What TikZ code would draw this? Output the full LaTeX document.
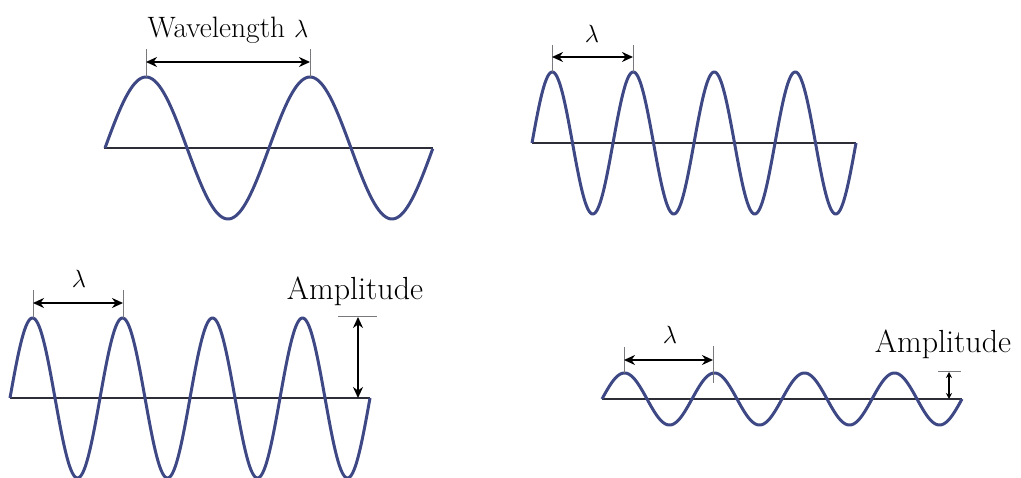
\documentclass[tikz,border=0pt]{standalone}
\usetikzlibrary{arrows.meta}
\definecolor{wavecol}{RGB}{62,72,132}
\definecolor{axiscol}{RGB}{45,45,55}
\definecolor{tickcol}{RGB}{120,120,125}
\tikzset{
  wave/.style={draw=wavecol, line width=3pt, line join=round},
  axisline/.style={draw=axiscol, line width=1.8pt},
  tickline/.style={draw=tickcol, line width=0.9pt},
  dimarrow/.style={draw=black, line width=1.8pt, {Stealth[length=11pt,width=10pt]}-{Stealth[length=11pt,width=10pt]}},
  lbl/.style={inner sep=0pt, anchor=base, font=\fontsize{29}{32}\selectfont},
  biglbl/.style={inner sep=0pt, anchor=base, font=\fontsize{32}{36}\selectfont}
}
\begin{document}
\begin{tikzpicture}[x=1pt, y=-1pt]
\useasboundingbox (0,0) rectangle (1021,478);

% ---------- Panel 1 (top-left) ----------
\coordinate (a1s) at (104,148);
\coordinate (a1e) at (433,148);
\draw[axisline] (a1s) -- (a1e);
\draw[wave] plot[domain=0:2, samples=240, smooth] ({105+164*\x},{148-71*sin(360*\x)});
\coordinate (p1a) at (146,77);
\coordinate (p1b) at (310,77);
\coordinate (t1a) at (146,49);
\coordinate (t1b) at (310,49);
\draw[tickline] (t1a) -- (p1a);
\draw[tickline] (t1b) -- (p1b);
\coordinate (d1a) at (146,62);
\coordinate (d1b) at (310,62);
\draw[dimarrow] (d1a) -- (d1b);
\node[lbl, font=\fontsize{29.5}{32}\selectfont] (wl) at (228,38) {Wavelength $\lambda$};

% ---------- Panel 2 (top-right) ----------
\coordinate (a2s) at (532,143);
\coordinate (a2e) at (856,143);
\draw[axisline] (a2s) -- (a2e);
\draw[wave] plot[domain=0:4, samples=400, smooth] ({532+81*\x},{143-71*sin(360*\x)});
\coordinate (p2a) at (552,72);
\coordinate (p2b) at (633,72);
\coordinate (t2a) at (552,45);
\coordinate (t2b) at (633,45);
\draw[tickline] (t2a) -- (p2a);
\draw[tickline] (t2b) -- (p2b);
\coordinate (d2a) at (552,57);
\coordinate (d2b) at (633,57);
\draw[dimarrow] (d2a) -- (d2b);
\node[lbl] (l2) at (592,43) {$\lambda$};

% ---------- Panel 3 (bottom-left) ----------
\coordinate (a3s) at (10,398);
\coordinate (a3e) at (370,398);
\draw[axisline] (a3s) -- (a3e);
\draw[wave] plot[domain=0:4, samples=400, smooth] ({10+90*\x},{398-80*sin(360*\x)});
\coordinate (p3a) at (33,318);
\coordinate (p3b) at (123,318);
\coordinate (t3a) at (33,290);
\coordinate (t3b) at (123,290);
\draw[tickline] (t3a) -- (p3a);
\draw[tickline] (t3b) -- (p3b);
\coordinate (d3a) at (33,303);
\coordinate (d3b) at (123,303);
\draw[dimarrow] (d3a) -- (d3b);
\node[lbl] (l3) at (79,288) {$\lambda$};
% amplitude
\coordinate (h3a) at (338,316);
\coordinate (h3b) at (377,316);
\draw[tickline] (h3a) -- (h3b);
\coordinate (v3a) at (358,317);
\coordinate (v3b) at (358,398);
\draw[dimarrow] (v3a) -- (v3b);
\node[biglbl] (am3) at (355,300) {Amplitude};

% ---------- Panel 4 (bottom-right) ----------
\coordinate (a4s) at (602,399);
\coordinate (a4e) at (962,399);
\draw[axisline] (a4s) -- (a4e);
\draw[wave] plot[domain=0:4, samples=400, smooth] ({602+90*\x},{399-26*sin(360*\x)});
\coordinate (p4a) at (624,373);
\coordinate (p4b) at (713,383);
\coordinate (t4a) at (624,347);
\coordinate (t4b) at (713,346);
\draw[tickline] (t4a) -- (p4a);
\draw[tickline] (t4b) -- (p4b);
\coordinate (d4a) at (624,360);
\coordinate (d4b) at (713,360);
\draw[dimarrow] (d4a) -- (d4b);
\node[lbl] (l4) at (670,344) {$\lambda$};
% amplitude
\coordinate (h4a) at (938,371);
\coordinate (h4b) at (961,371);
\draw[tickline] (h4a) -- (h4b);
\coordinate (v4a) at (949,372);
\coordinate (v4b) at (949,399);
\draw[draw=black, line width=1.5pt, {Stealth[length=6pt,width=6pt]}-{Stealth[length=6pt,width=6pt]}] (v4a) -- (v4b);
\node[biglbl] (am4) at (943,353) {Amplitude};
\end{tikzpicture}
\end{document}
